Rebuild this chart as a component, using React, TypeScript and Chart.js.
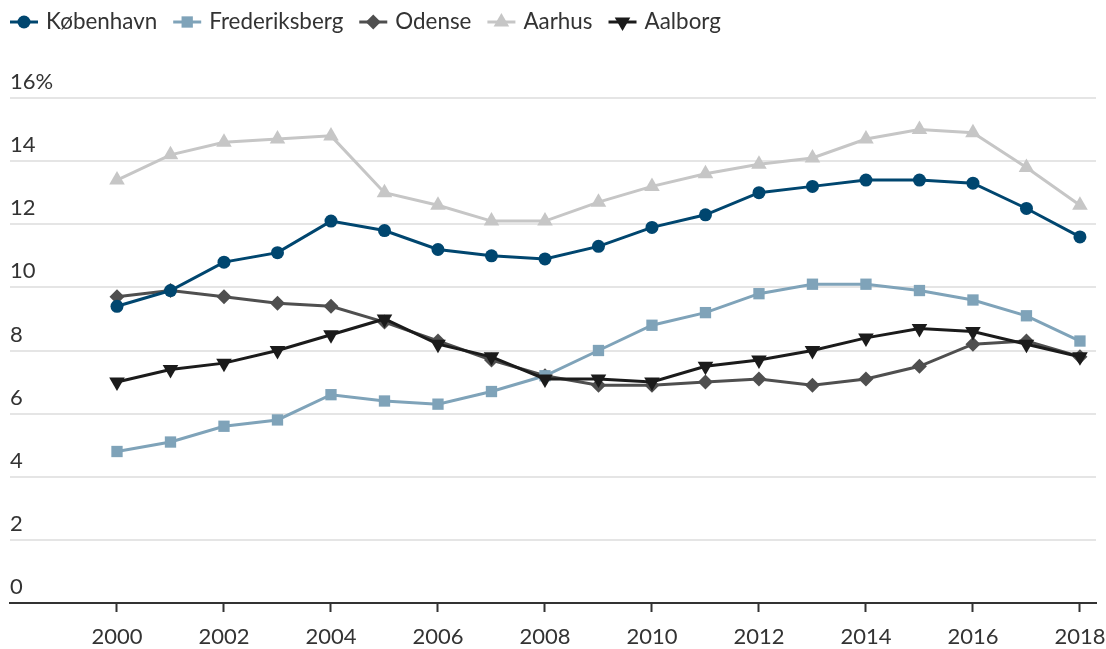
import React, { useEffect, useRef } from 'react';
import { Chart, registerables } from 'chart.js';
import * as helpers from 'chart.js/helpers';

Chart.register(...registerables);

const years = [2000, 2001, 2002, 2003, 2004, 2005, 2006, 2007, 2008, 2009, 2010, 2011, 2012, 2013, 2014, 2015, 2016, 2017, 2018];
const kobenhavn = [9.4, 9.9, 10.8, 11.1, 12.1, 11.8, 11.2, 11.0, 10.9, 11.3, 11.9, 12.3, 13.0, 13.2, 13.4, 13.4, 13.3, 12.5, 11.6];
const frederiksberg = [4.8, 5.1, 5.6, 5.8, 6.6, 6.4, 6.3, 6.7, 7.2, 8.0, 8.8, 9.2, 9.8, 10.1, 10.1, 9.9, 9.6, 9.1, 8.3];
const odense = [9.7, 9.9, 9.7, 9.5, 9.4, 8.9, 8.3, 7.7, 7.2, 6.9, 6.9, 7.0, 7.1, 6.9, 7.1, 7.5, 8.2, 8.3, 7.8];
const aarhus = [13.4, 14.2, 14.6, 14.7, 14.8, 13.0, 12.6, 12.1, 12.1, 12.7, 13.2, 13.6, 13.9, 14.1, 14.7, 15.0, 14.9, 13.8, 12.6];
const aalborg = [7.0, 7.4, 7.6, 8.0, 8.5, 9.0, 8.2, 7.8, 7.1, 7.1, 7.0, 7.5, 7.7, 8.0, 8.4, 8.7, 8.6, 8.2, 7.8];

const seriesNames = ['København', 'Frederiksberg', 'Odense', 'Aarhus', 'Aalborg'];
const seriesValues = [kobenhavn, frederiksberg, odense, aarhus, aalborg];
const seriesColors = ['#00466f', '#7fa3b9', '#4f4f4f', '#c6c6c6', '#1b1b1b'];
const seriesStyles = ['circle', 'rect', 'rectRot', 'triangle', 'triangle'];
const seriesRotation = [0, 0, 0, 0, 180];
const seriesRadius = [6.5, 8, 7.5, 9, 9];
const seriesOrder = [0, 2, 3, 4, 1];

const xTicks = [2000, 2002, 2004, 2006, 2008, 2010, 2012, 2014, 2016, 2018];
const yMax = 16;
const yStep = 2;

const FONT = 'Lato';
const TEXT = '#333333';

const legendPlugin = {
  id: 'customLegend',
  afterDraw(chart: any) {
    const ctx = chart.ctx;
    ctx.save();
    ctx.font = `22.4px ${FONT}`;
    ctx.textBaseline = 'middle';
    ctx.textAlign = 'left';
    let x = 10;
    const y = 22;
    chart.data.datasets.forEach((ds: any) => {
      ctx.strokeStyle = ds.borderColor;
      ctx.lineWidth = 3;
      ctx.beginPath();
      ctx.moveTo(x, y);
      ctx.lineTo(x + 28, y);
      ctx.stroke();
      ctx.fillStyle = ds.borderColor;
      ctx.strokeStyle = ds.borderColor;
      helpers.drawPoint(
        ctx,
        { pointStyle: ds.pointStyle, rotation: ds.pointRotation || 0, radius: ds.pointRadius, borderWidth: 0 },
        x + 14,
        y
      );
      ctx.fillStyle = TEXT;
      ctx.fillText(ds.label, x + 36, y);
      x += 36 + ctx.measureText(ds.label).width + 16;
    });
    ctx.restore();
  },
};

export default function App() {
  const canvasRef = useRef<HTMLCanvasElement | null>(null);

  useEffect(() => {
    document.body.style.margin = '0';
    const canvas = canvasRef.current;
    if (!canvas) return;
    const datasets = seriesNames.map((name, i) => ({
      label: name,
      data: years.map((yr, j) => ({ x: yr, y: seriesValues[i][j] })),
      borderColor: seriesColors[i],
      backgroundColor: seriesColors[i],
      pointBackgroundColor: seriesColors[i],
      pointBorderColor: seriesColors[i],
      pointBorderWidth: 0,
      pointStyle: seriesStyles[i],
      pointRotation: seriesRotation[i],
      pointRadius: seriesRadius[i],
      borderWidth: 3,
      tension: 0,
      order: seriesOrder[i],
    }));

    const chart = new Chart(canvas, {
      type: 'line',
      data: { datasets },
      plugins: [legendPlugin],
      options: {
        responsive: false,
        animation: false,
        devicePixelRatio: 1,
        layout: { padding: { left: 10, right: 10, top: 98, bottom: 0 } },
        plugins: {
          legend: { display: false },
          tooltip: { enabled: false },
        },
        scales: {
          x: {
            type: 'linear',
            min: 1998,
            max: 2018.3,
            afterBuildTicks: (scale: any) => {
              scale.ticks = xTicks.map((v) => ({ value: v }));
            },
            afterFit: (scale: any) => {
              scale.height = 46;
              scale.paddingLeft = 0;
              scale.paddingRight = 0;
            },
            grid: {
              display: true,
              drawOnChartArea: false,
              drawTicks: true,
              tickLength: 9,
              tickWidth: 2,
              tickColor: '#333333',
            },
            border: { display: true, color: '#333333', width: 2 },
            ticks: {
              color: TEXT,
              font: { family: FONT, size: 22 },
              padding: 12,
              maxRotation: 0,
              autoSkip: false,
              callback: (v: any) => String(v),
            },
          },
          y: {
            type: 'linear',
            min: 0,
            max: yMax,
            afterFit: (scale: any) => {
              scale.paddingTop = 0;
              scale.paddingBottom = 0;
            },
            grid: {
              drawTicks: false,
              lineWidth: 2,
              color: (c: any) => (c.tick && c.tick.value === 0 ? 'rgba(0,0,0,0)' : '#e5e5e5'),
            },
            border: { display: false },
            ticks: {
              stepSize: yStep,
              mirror: true,
              padding: 0,
              labelOffset: -16,
              color: TEXT,
              font: { family: FONT, size: 22 },
              callback: (v: any) => (v === yMax ? `${v}%` : String(v)),
            },
          },
        },
      },
    });
    return () => chart.destroy();
  }, []);

  return (
    <div style={{ position: 'relative', width: 1106, height: 649, background: '#fff' }}>
      <canvas ref={canvasRef} width={1106} height={649} style={{ display: 'block' }} />
    </div>
  );
}
